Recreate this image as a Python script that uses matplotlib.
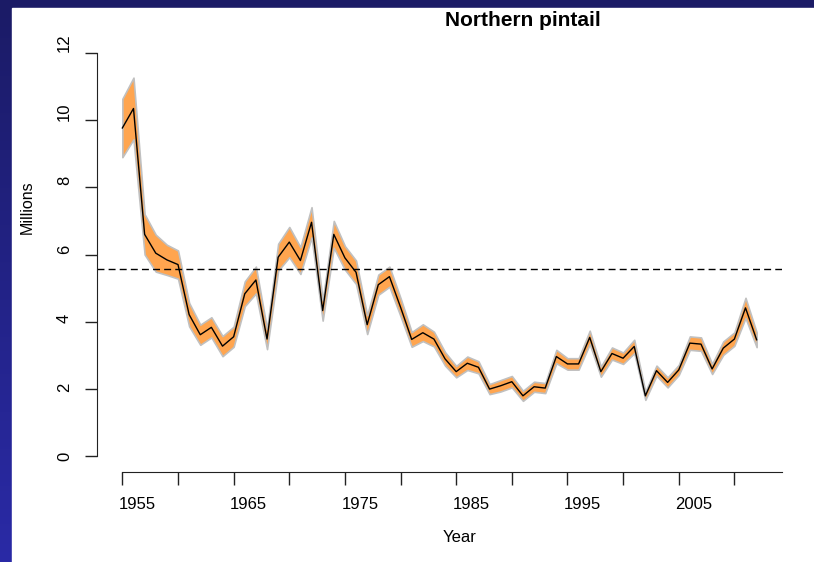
import numpy as np
import matplotlib.pyplot as plt
from matplotlib.colors import LinearSegmentedColormap
from matplotlib.patches import Rectangle
from matplotlib.transforms import ScaledTranslation

plt.rcParams['font.family'] = ['Liberation Sans', 'DejaVu Sans']

# breeding population estimate (millions) and half-width of the band
years = np.arange(1955, 2013)
pop = [9.77, 10.35, 6.60, 6.04, 5.84, 5.70, 4.21, 3.61, 3.83, 3.27,
       3.55, 4.83, 5.24, 3.48, 5.92, 6.37, 5.82, 6.96, 4.33, 6.60,
       5.90, 5.47, 3.91, 5.10, 5.34, 4.43, 3.47, 3.67, 3.48, 2.89,
       2.51, 2.76, 2.64, 1.99, 2.09, 2.21, 1.79, 2.06, 2.02, 2.96,
       2.74, 2.74, 3.53, 2.51, 3.05, 2.91, 3.26, 1.79, 2.54, 2.19,
       2.56, 3.36, 3.33, 2.59, 3.21, 3.48, 4.41, 3.46]
half = [0.87, 0.92, 0.60, 0.55, 0.45, 0.42, 0.35, 0.30, 0.30, 0.30,
        0.30, 0.37, 0.40, 0.30, 0.40, 0.45, 0.40, 0.45, 0.30, 0.40,
        0.35, 0.35, 0.28, 0.30, 0.30, 0.27, 0.22, 0.25, 0.22, 0.20,
        0.17, 0.20, 0.18, 0.15, 0.17, 0.17, 0.15, 0.15, 0.15, 0.20,
        0.17, 0.17, 0.20, 0.15, 0.18, 0.17, 0.20, 0.12, 0.15, 0.15,
        0.15, 0.20, 0.20, 0.15, 0.20, 0.20, 0.30, 0.22]
goal = 5.58

x_ticks = np.arange(1955, 2011, 5)
x_labels = [str(y) if (y - 1955) % 10 == 0 else '' for y in x_ticks]
y_ticks = [0, 2, 4, 6, 8, 10, 12]

pop = np.array(pop)
half = np.array(half)

W, H = 814, 562
fig = plt.figure(figsize=(W / 100, H / 100), dpi=100)

# slide background: navy gradient with white content area
bg = fig.add_axes([0, 0, 1, 1])
bg.axis('off')
grad = np.linspace(0, 1, 256).reshape(-1, 1)
cmap = LinearSegmentedColormap.from_list('bg', ['#1b1b66', '#2a2aa6'])
bg.imshow(grad, aspect='auto', cmap=cmap, extent=[0, 1, 0, 1], origin='upper')
bg.add_patch(Rectangle((12 / W, 0), 1, (H - 8) / H, color='white'))
bg.set_xlim(0, 1)
bg.set_ylim(0, 1)

# plot region in pixels: x 97..782, y 37..472 (from top)
ax = fig.add_axes([97 / W, (H - 472) / H, (782 - 97) / W, (472 - 37) / H])
ax.set_facecolor('none')

ax.fill_between(years, pop - half, pop + half, facecolor='#FFA54F',
                edgecolor='#C0C0C0', linewidth=1.2)
ax.plot(years, pop, color='black', linewidth=1)
ax.axhline(goal, color='black', linewidth=1, linestyle=(0, (5, 3)))

ax.set_xlim(1952.72, 2014.28)
ax.set_ylim(-0.48, 12.48)

for s in ['top', 'right']:
    ax.spines[s].set_visible(False)
ax.spines['left'].set_bounds(0, 12)
ax.spines['bottom'].set_bounds(1955, 2014.28)
for s in ['left', 'bottom']:
    ax.spines[s].set_color('#222222')

ax.set_xticks(x_ticks)
ax.set_xticklabels(x_labels)
ax.set_yticks(y_ticks)
ax.tick_params(axis='both', length=9, width=1, color='#222222', labelsize=12)
ax.tick_params(axis='x', pad=9)
ax.tick_params(axis='y', pad=9)
# the y labels in the original sit a little higher than their ticks
for lab, v in zip(ax.get_yticklabels(), y_ticks):
    lab.set_rotation(90)
    lab.set_va('center')
    lab.set_transform(lab.get_transform() +
                      ScaledTranslation(0, v * 0.0085, fig.dpi_scale_trans))
shift = ScaledTranslation(0.15, 0, fig.dpi_scale_trans)
for lab in ax.get_xticklabels():
    lab.set_transform(lab.get_transform() + shift)

fig.text(523 / W, (H - 20) / H, 'Northern pintail', ha='center', va='center',
         fontsize=15, fontweight='bold')
fig.text(27 / W, (H - 207) / H, 'Millions', ha='center', va='center',
         rotation=90, fontsize=11.5)
fig.text(460 / W, (H - 538) / H, 'Year', ha='center', va='center', fontsize=12)

fig.savefig('out.png', dpi=100)
